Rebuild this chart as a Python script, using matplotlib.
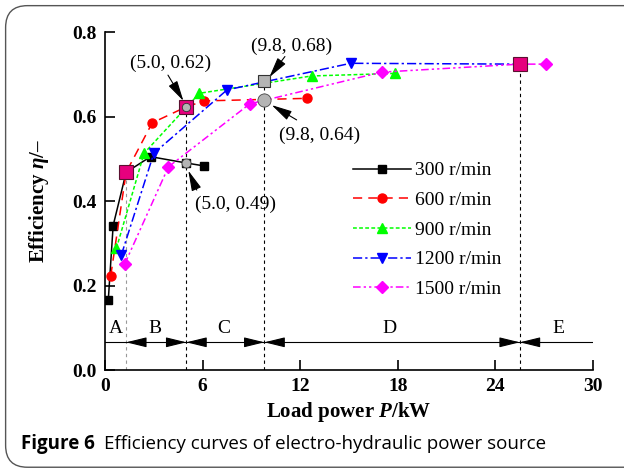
import numpy as np
import matplotlib.pyplot as plt
from matplotlib.patches import FancyBboxPatch

# data
x300 = [0.2, 0.5, 1.3, 2.8, 5.0, 6.1]
y300 = [0.165, 0.342, 0.468, 0.505, 0.490, 0.483]
x600 = [0.35, 1.3, 2.9, 5.0, 6.1, 12.4]
y600 = [0.223, 0.468, 0.585, 0.623, 0.637, 0.643]
x900 = [0.7, 2.4, 5.8, 12.7, 17.8]
y900 = [0.288, 0.513, 0.655, 0.696, 0.702]
x1200 = [1.0, 3.0, 7.5, 15.1, 25.5]
y1200 = [0.272, 0.513, 0.663, 0.726, 0.724]
x1500 = [1.2, 3.9, 8.9, 17.0, 25.5, 27.1]
y1500 = [0.250, 0.481, 0.630, 0.705, 0.724, 0.724]

bounds = [1.3, 5.0, 9.8, 25.5]
bound_tops = [0.468, 0.623, 0.684, 0.724]
regions = ['A', 'B', 'C', 'D', 'E']
region_x = [0.68, 3.1, 7.3, 17.5, 27.9]

notes = ['(5.0, 0.62)', '(9.8, 0.68)', '(9.8, 0.64)', '(5.0, 0.49)']
note_xy = [(4.0, 0.727), (11.47, 0.765), (13.2, 0.555), (8.0, 0.393)]
arrow_from = [(3.87, 0.698), (11.06, 0.742), (11.78, 0.592), (5.64, 0.426)]
arrow_to = [(4.82, 0.637), (10.1, 0.693), (10.25, 0.627), (5.12, 0.472)]

plt.rcParams['font.family'] = 'Liberation Serif'
plt.rcParams['mathtext.fontset'] = 'custom'
plt.rcParams['mathtext.it'] = 'Liberation Serif:italic:bold'
plt.rcParams['mathtext.rm'] = 'Liberation Serif:bold'

fig = plt.figure(figsize=(6.24, 4.71), dpi=100)
ax = fig.add_axes([0.1683, 0.2144, 0.782, 0.7176])

lw = 1.1
ax.plot(x300, y300, color='black', ls='-', marker='s', ms=6, lw=lw, label='300 r/min')
ax.plot(x600, y600, color='red', ls=(0, (6, 4)), marker='o', ms=6.5, lw=lw, label='600 r/min')
ax.plot(x900, y900, color='#00ff00', ls=(0, (2.5, 1.5)), marker='^', ms=7, lw=lw, label='900 r/min')
ax.plot(x1200, y1200, color='blue', ls=(0, (6, 2, 1.5, 2)), marker='v', ms=7, lw=lw, label='1200 r/min')
ax.plot(x1500, y1500, color='#ff00ff', ls=(0, (5, 2, 1.5, 2, 1.5, 2)), marker='D', ms=6, lw=lw, label='1500 r/min')

# boundary dashed lines
for i, b in enumerate(bounds):
    c = '#999999' if i == 0 else 'black'
    ax.plot([b, b], [0, bound_tops[i]], color=c, ls=(0, (3, 3)), lw=0.8, zorder=1)

# highlighted points
ax.plot([1.3, 5.0, 25.5], [0.468, 0.623, 0.724], ls='none', marker='s', ms=9.5,
        mfc='#e6007e', mec='#5a1030', mew=0.8, zorder=5)
ax.plot([9.8], [0.684], ls='none', marker='s', ms=9, mfc='#b4b4b4', mec='#333333', mew=0.8, zorder=5)
ax.plot([5.0], [0.623], ls='none', marker='o', ms=6, mfc='#b4b4b4', mec='#333333', mew=0.6, zorder=6)
ax.plot([5.0], [0.490], ls='none', marker='o', ms=6.5, mfc='#b4b4b4', mec='#444444', mew=0.6, zorder=5)
ax.plot([9.8], [0.638], ls='none', marker='o', ms=9.5, mfc='#b4b4b4', mec='#444444', mew=0.6, zorder=5)

head = '-|>,head_length=0.9,head_width=0.22'

# annotations
for t, p, a, b in zip(notes, note_xy, arrow_from, arrow_to):
    ax.text(p[0], p[1], t, fontsize=14, ha='center', va='center')
    ax.annotate('', xy=b, xytext=a,
                arrowprops=dict(arrowstyle=head, color='black',
                                lw=0.8, shrinkA=0, shrinkB=0, mutation_scale=14))

# region bar
yr = 0.0656
ax.plot([0, 30], [yr, yr], color='black', lw=0.8)
for i, b in enumerate(bounds):
    if i > 0:
        ax.annotate('', xy=(b, yr), xytext=(b - 1.1, yr),
                    arrowprops=dict(arrowstyle=head, color='black',
                                    lw=0.8, shrinkA=0, shrinkB=0, mutation_scale=14))
    ax.annotate('', xy=(b, yr), xytext=(b + 1.1, yr),
                arrowprops=dict(arrowstyle=head, color='black',
                                lw=0.8, shrinkA=0, shrinkB=0, mutation_scale=14))
for r, xr in zip(regions, region_x):
    ax.text(xr, 0.099, r, fontsize=14, ha='center', va='center')

ax.set_xlim(0, 30)
ax.set_ylim(0, 0.8)
ax.set_xticks([0, 6, 12, 18, 24, 30])
ax.set_yticks([0.0, 0.2, 0.4, 0.6, 0.8])
ax.set_yticklabels(['0.0', '0.2', '0.4', '0.6', '0.8'])
ax.spines['top'].set_visible(False)
ax.spines['right'].set_visible(False)
ax.spines['left'].set_linewidth(1.2)
ax.spines['bottom'].set_linewidth(1.2)
ax.tick_params(direction='in', length=7, width=1.2, labelsize=14, pad=6)
for lab in ax.get_xticklabels() + ax.get_yticklabels():
    lab.set_fontweight('bold')

ax.set_xlabel(r'Load power $P$/kW', fontsize=15, fontweight='bold', labelpad=3)
ax.set_ylabel(r'Efficiency $\eta$/–', fontsize=15, fontweight='bold', labelpad=15)

ax.legend(loc='upper left', bbox_to_anchor=(0.488, 0.645), frameon=False, fontsize=14,
          handlelength=3.0, handletextpad=0.2, labelspacing=0.62, numpoints=1, borderpad=0)

# caption and frame
t1 = fig.text(0.034, 0.058, 'Figure 6', fontsize=13.5, fontweight='bold', family='Open Sans',
              ha='left', va='center')
r = fig.canvas.get_renderer()
bb = t1.get_window_extent(r)
x2 = (bb.x1 + 9) / fig.bbox.width
fig.text(x2, 0.058, 'Efficiency curves of electro-hydraulic power source', fontsize=13.5,
         family='Open Sans', ha='left', va='center')

frame = FancyBboxPatch((0.009, 0.008), 1.05, 0.98, boxstyle='round,pad=0,rounding_size=0.035',
                       transform=fig.transFigure, fill=False, ec='#555555', lw=1.0,
                       mutation_aspect=624 / 471)
fig.patches.append(frame)

fig.savefig('out.png', dpi=100)
